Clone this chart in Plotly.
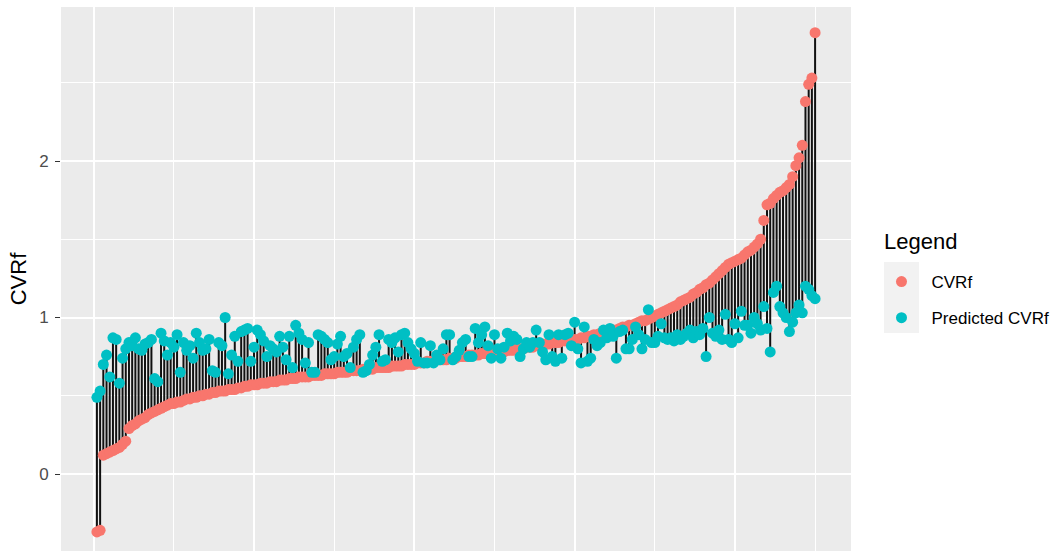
import plotly.graph_objects as go

# Observed CVRf values, sorted ascending
cvrf = [
    -0.37, -0.36, 0.12, 0.13, 0.14, 0.15, 0.16, 0.17, 0.19, 0.21,
    0.29, 0.31, 0.32, 0.34, 0.35, 0.36, 0.38, 0.39, 0.40, 0.41,
    0.42, 0.43, 0.44, 0.45, 0.45, 0.46, 0.46, 0.47, 0.48, 0.48,
    0.49, 0.49, 0.50, 0.50, 0.51, 0.51, 0.52, 0.52, 0.53, 0.53,
    0.53, 0.54, 0.54, 0.54, 0.55, 0.55, 0.56, 0.56, 0.57, 0.57,
    0.57, 0.58, 0.58, 0.58, 0.59, 0.59, 0.59, 0.60, 0.60, 0.60,
    0.61, 0.61, 0.61, 0.62, 0.62, 0.62, 0.62, 0.63, 0.63, 0.63,
    0.63, 0.64, 0.64, 0.64, 0.64, 0.65, 0.65, 0.65, 0.65, 0.66,
    0.66, 0.66, 0.66, 0.67, 0.67, 0.67, 0.67, 0.68, 0.68, 0.68,
    0.68, 0.68, 0.69, 0.69, 0.69, 0.69, 0.70, 0.70, 0.70, 0.70,
    0.71, 0.71, 0.71, 0.72, 0.72, 0.72, 0.73, 0.73, 0.73, 0.73,
    0.74, 0.74, 0.74, 0.75, 0.75, 0.75, 0.76, 0.76, 0.76, 0.76,
    0.77, 0.77, 0.77, 0.77, 0.78, 0.78, 0.78, 0.78, 0.79, 0.79,
    0.79, 0.80, 0.80, 0.80, 0.81, 0.81, 0.81, 0.82, 0.82, 0.83,
    0.83, 0.83, 0.84, 0.84, 0.84, 0.85, 0.85, 0.85, 0.86, 0.86,
    0.86, 0.87, 0.87, 0.88, 0.88, 0.89, 0.89, 0.90, 0.90, 0.91,
    0.91, 0.92, 0.92, 0.93, 0.94, 0.94, 0.95, 0.95, 0.96, 0.97,
    0.98, 0.98, 0.99, 1.00, 1.01, 1.02, 1.03, 1.04, 1.05, 1.06,
    1.07, 1.08, 1.10, 1.11, 1.12, 1.13, 1.15, 1.16, 1.18, 1.19,
    1.21, 1.22, 1.24, 1.26, 1.28, 1.30, 1.32, 1.34, 1.35, 1.36,
    1.37, 1.38, 1.40, 1.42, 1.43, 1.45, 1.47, 1.50, 1.62, 1.72,
    1.73, 1.76, 1.78, 1.80, 1.81, 1.83, 1.85, 1.90, 1.97, 2.02,
    2.10, 2.38, 2.49, 2.53, 2.82,
]

# Model predictions for the same observations
predicted = [
    0.49, 0.53, 0.70, 0.76, 0.62, 0.87, 0.86, 0.58, 0.74, 0.80,
    0.84, 0.82, 0.87, 0.80, 0.79, 0.83, 0.84, 0.86, 0.61, 0.59,
    0.90, 0.85, 0.76, 0.84, 0.81, 0.89, 0.65, 0.84, 0.79, 0.82,
    0.74, 0.90, 0.84, 0.79, 0.80, 0.86, 0.66, 0.65, 0.84, 0.82,
    1.00, 0.64, 0.76, 0.88, 0.72, 0.91, 0.92, 0.93, 0.72, 0.81,
    0.92, 0.89, 0.85, 0.75, 0.82, 0.80, 0.78, 0.88, 0.81, 0.73,
    0.88, 0.68, 0.95, 0.90, 0.86, 0.71, 0.84, 0.65, 0.65, 0.89,
    0.88, 0.86, 0.84, 0.73, 0.75, 0.83, 0.88, 0.75, 0.77, 0.68,
    0.81, 0.86, 0.89, 0.65, 0.66, 0.70, 0.76, 0.81, 0.89, 0.72,
    0.73, 0.86, 0.84, 0.87, 0.78, 0.89, 0.90, 0.84, 0.80, 0.77,
    0.72, 0.84, 0.71, 0.71, 0.82, 0.71, 0.76, 0.73, 0.80, 0.89,
    0.89, 0.73, 0.75, 0.79, 0.84, 0.86, 0.75, 0.75, 0.93, 0.84,
    0.89, 0.94, 0.82, 0.74, 0.89, 0.80, 0.74, 0.81, 0.90, 0.85,
    0.88, 0.86, 0.75, 0.80, 0.84, 0.81, 0.84, 0.92, 0.84, 0.78,
    0.73, 0.89, 0.75, 0.72, 0.89, 0.74, 0.89, 0.90, 0.82, 0.97,
    0.80, 0.71, 0.94, 0.72, 0.74, 0.86, 0.82, 0.84, 0.92, 0.87,
    0.93, 0.88, 0.74, 0.91, 0.92, 0.80, 0.80, 0.86, 0.94, 0.89,
    0.80, 0.86, 1.05, 0.84, 0.84, 0.88, 0.96, 0.87, 0.86, 0.87,
    0.85, 0.89, 0.86, 0.88, 0.90, 0.92, 0.87, 0.91, 0.89, 0.93,
    0.75, 1.00, 0.90, 0.88, 0.92, 0.86, 1.02, 0.86, 0.84, 0.96,
    0.87, 1.04, 0.95, 0.95, 0.90, 1.00, 0.96, 0.92, 1.07, 0.93,
    0.78, 1.16, 1.20, 1.07, 1.03, 1.00, 0.91, 0.97, 1.03, 1.08,
    1.03, 1.20, 1.18, 1.14, 1.12,
]

obs = list(range(1, len(cvrf) + 1))

FONT = "Liberation Sans, Arial, sans-serif"
RED = "#F8766D"
CYAN = "#00BFC4"

# One vertical segment per observation, from observed to predicted value
seg_x, seg_y = [], []
for i, a, b in zip(obs, cvrf, predicted):
    seg_x += [i, i, None]
    seg_y += [a, b, None]

fig = go.Figure()
fig.add_trace(go.Scatter(
    x=seg_x, y=seg_y, mode="lines",
    line=dict(color="#111111", width=2.0),
    showlegend=False, hoverinfo="skip",
))
fig.add_trace(go.Scatter(
    x=obs, y=cvrf, mode="markers", name="CVRf", legendgroup="obs",
    marker=dict(color=RED, size=11, line=dict(width=0)),
))
fig.add_trace(go.Scatter(
    x=obs, y=predicted, mode="markers", name="Predicted CVRf", legendgroup="pred",
    marker=dict(color=CYAN, size=11, line=dict(width=0)),
))

L, R, T, B = 61, 851, 7, 551
W, H = 1060, 555

def px(x):
    return (x - L) / (R - L)

def py(y):
    return (B - y) / (B - T)

# grey legend key backgrounds
fig.add_shape(type="rect", xref="paper", yref="paper",
              x0=px(884), x1=px(919), y0=py(333), y1=py(262),
              fillcolor="#F2F2F2", line=dict(width=0), layer="below")

# legend heading
fig.add_annotation(text="Legend", xref="paper", yref="paper",
                   x=px(882), y=py(241), xanchor="left", yanchor="middle",
                   showarrow=False, font=dict(size=22, family=FONT, color="black"))

fig.update_layout(
    width=W, height=H,
    margin=dict(l=L, r=W - R, t=T, b=H - B, autoexpand=False),
    paper_bgcolor="white",
    plot_bgcolor="#EBEBEB",
    font=dict(family=FONT, color="black"),
    xaxis=dict(
        range=[-10.2, 236.2], tick0=0, dtick=50,
        showgrid=True, gridcolor="white", gridwidth=2.2,
        minor=dict(tick0=0, dtick=25, showgrid=True, gridcolor="white", gridwidth=1.1),
        showticklabels=False, ticks="", zeroline=False, showline=False,
    ),
    yaxis=dict(
        range=[-0.492, 2.984], tick0=0, dtick=1,
        showgrid=True, gridcolor="white", gridwidth=2.2,
        minor=dict(tick0=0, dtick=0.5, showgrid=True, gridcolor="white", gridwidth=1.1),
        ticks="outside", ticklen=5, tickwidth=1.1, tickcolor="#333333",
        tickfont=dict(size=17, color="#4D4D4D", family=FONT),
        ticklabelstandoff=3,
        zeroline=False, showline=False,
        title=dict(text="CVRf", font=dict(size=22, color="black", family=FONT), standoff=6),
    ),
    legend=dict(
        font=dict(size=17, family=FONT),
        x=px(871.5), xanchor="left", y=py(264), yanchor="top",
        bgcolor="rgba(0,0,0,0)", tracegroupgap=11, itemwidth=50,
    ),
    showlegend=True,
)

fig.write_html("out.html")
